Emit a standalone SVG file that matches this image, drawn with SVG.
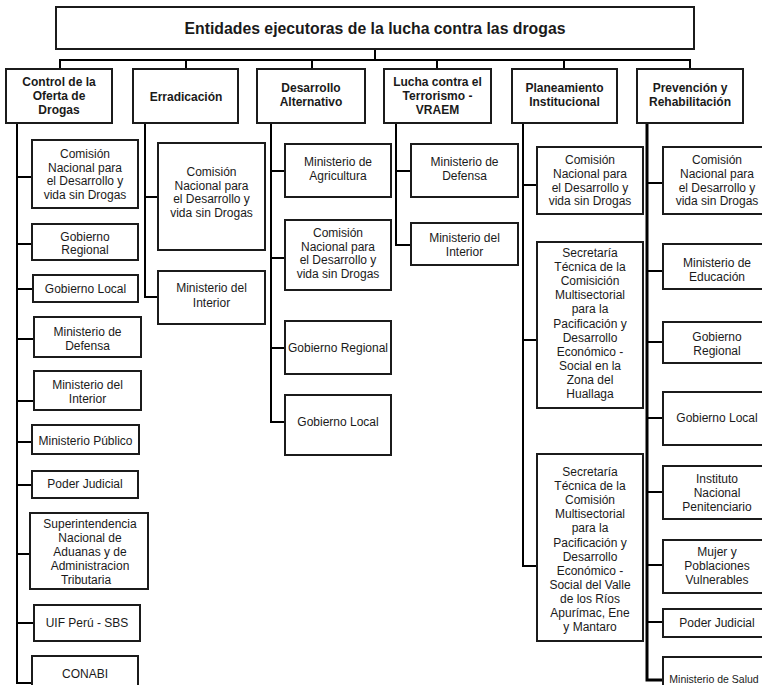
<svg xmlns="http://www.w3.org/2000/svg" width="762" height="685" viewBox="0 0 762 685">
<style>
.box{fill:#fff;stroke:#1b1b1b;stroke-width:2}
.t{font-family:"Liberation Sans",Arial,sans-serif;font-size:12px;text-anchor:middle;fill:#1a1a1a}
.h{font-weight:bold}
.ti{font-size:15.8px}
.s{font-size:10.5px}
.c{fill:none;stroke:#000;stroke-width:2}
.c3{fill:none;stroke:#000;stroke-width:3}
</style>
<rect width="762" height="685" fill="#fff"/>
<g id="connectors">
<path class="c" d="M375,49V60M60,69V60H690V69M186,60V69M312,60V69M437,60V69M564,60V69"/>
<path class="c" d="M17,123V683H32M17,177H32M17,244H32M17,289H33M17,339H34M17,401H34M17,442H32M17,485H32M17,554H30M17,623H34"/>
<path class="c" d="M145,123V297H158M145,197H158"/>
<path class="c" d="M271,123V422H285M271,171H285M271,258H285M271,348H285"/>
<path class="c" d="M396,123V245H411M396,171H411"/>
<path class="c" d="M523,123V566H537M523,185H537M523,340H537"/>
<path class="c3" d="M647,123V680H663"/>
<path class="c" d="M647,183H663M647,271H663M647,342H663M647,418H663M647,492H663M647,565H663M647,622H663"/>
</g>
<g id="title"><rect class="box" x="56" y="7" width="638" height="42"/><text class="t h ti" x="375" y="34">Entidades ejecutoras de la lucha contra las drogas</text></g>
<g id="h1"><rect class="box" x="6" y="69" width="106" height="54"/><text class="t h" x="59" y="86">Control de la<tspan x="59" dy="14">Oferta de</tspan><tspan x="59" dy="14">Drogas</tspan></text></g>
<g id="h2"><rect class="box" x="133" y="69" width="105" height="54"/><text class="t h" x="186" y="101">Erradicación</text></g>
<g id="h3"><rect class="box" x="257" y="69" width="108" height="54"/><text class="t h" x="311" y="92">Desarrollo<tspan x="311" dy="14">Alternativo</tspan></text></g>
<g id="h4"><rect class="box" x="384" y="69" width="107" height="54"/><text class="t h" x="437.5" y="86">Lucha contra el<tspan x="437.5" dy="14">Terrorismo -</tspan><tspan x="437.5" dy="14">VRAEM</tspan></text></g>
<g id="h5"><rect class="box" x="512" y="69" width="105" height="54"/><text class="t h" x="564.5" y="92">Planeamiento<tspan x="564.5" dy="14">Institucional</tspan></text></g>
<g id="h6"><rect class="box" x="637" y="69" width="106" height="54"/><text class="t h" x="690" y="92">Prevención y<tspan x="690" dy="14">Rehabilitación</tspan></text></g>

<g id="c1a"><rect class="box" x="32" y="140" width="106" height="68"/><text class="t" x="85" y="158">Comisión<tspan x="85" dy="13.5">Nacional para</tspan><tspan x="85" dy="13.5">el Desarrollo y</tspan><tspan x="85" dy="13.5">vida sin Drogas</tspan></text></g>
<g id="c1b"><rect class="box" x="32" y="224" width="106" height="36"/><text class="t" x="85" y="240.5">Gobierno<tspan x="85" dy="13.5">Regional</tspan></text></g>
<g id="c1c"><rect class="box" x="33" y="275" width="105" height="27"/><text class="t" x="85.5" y="293">Gobierno Local</text></g>
<g id="c1d"><rect class="box" x="34" y="317" width="107" height="40"/><text class="t" x="87.5" y="336">Ministerio de<tspan x="87.5" dy="13.5">Defensa</tspan></text></g>
<g id="c1e"><rect class="box" x="34" y="371" width="107" height="39"/><text class="t" x="87.5" y="389">Ministerio del<tspan x="87.5" dy="13.5">Interior</tspan></text></g>
<g id="c1f"><rect class="box" x="32" y="425" width="107" height="29"/><text class="t" x="85.5" y="445">Ministerio Público</text></g>
<g id="c1g"><rect class="box" x="32" y="471" width="106" height="27"/><text class="t" x="85" y="488">Poder Judicial</text></g>
<g id="c1h"><rect class="box" x="30" y="513" width="118" height="76"/><text class="t" x="90" y="528">Superintendencia<tspan x="90" dy="14">Nacional de</tspan><tspan x="90" dy="14">Aduanas y de</tspan><tspan x="90" dy="14">Administracion</tspan><tspan x="86" dy="14">Tributaria</tspan></text></g>
<g id="c1i"><rect class="box" x="34" y="605" width="106" height="36"/><text class="t" x="87" y="627">UIF Perú - SBS</text></g>
<g id="c1j"><rect class="box" x="32" y="656" width="106" height="45"/><text class="t" x="85" y="678">CONABI</text></g>

<g id="c2a"><rect class="box" x="158" y="143" width="107" height="107"/><text class="t" x="211.5" y="176">Comisión<tspan x="211.5" dy="13.7">Nacional para</tspan><tspan x="211.5" dy="13.7">el Desarrollo y</tspan><tspan x="211.5" dy="13.7">vida sin Drogas</tspan></text></g>
<g id="c2b"><rect class="box" x="158" y="271" width="107" height="53"/><text class="t" x="211.5" y="292">Ministerio del<tspan x="211.5" dy="14.5">Interior</tspan></text></g>

<g id="c3a"><rect class="box" x="285" y="144" width="106" height="53"/><text class="t" x="338" y="166">Ministerio de<tspan x="338" dy="13.5">Agricultura</tspan></text></g>
<g id="c3b"><rect class="box" x="285" y="220" width="106" height="70"/><text class="t" x="338" y="237">Comisión<tspan x="338" dy="13.7">Nacional para</tspan><tspan x="338" dy="13.7">el Desarrollo y</tspan><tspan x="338" dy="13.7">vida sin Drogas</tspan></text></g>
<g id="c3c"><rect class="box" x="285" y="321" width="106" height="53"/><text class="t" x="338" y="352">Gobierno Regional</text></g>
<g id="c3d"><rect class="box" x="285" y="395" width="106" height="60"/><text class="t" x="338" y="426">Gobierno Local</text></g>

<g id="c4a"><rect class="box" x="411" y="144" width="107" height="53"/><text class="t" x="464.5" y="166">Ministerio de<tspan x="464.5" dy="13.5">Defensa</tspan></text></g>
<g id="c4b"><rect class="box" x="411" y="223" width="107" height="42"/><text class="t" x="464.5" y="242">Ministerio del<tspan x="464.5" dy="14">Interior</tspan></text></g>

<g id="c5a"><rect class="box" x="537" y="147" width="106" height="67"/><text class="t" x="590" y="164">Comisión<tspan x="590" dy="13.8">Nacional para</tspan><tspan x="590" dy="13.8">el Desarrollo y</tspan><tspan x="590" dy="13.8">vida sin Drogas</tspan></text></g>
<g id="c5b"><rect class="box" x="537" y="242" width="106" height="166"/><text class="t" x="590" y="257">Secretaría<tspan x="590" dy="14.1">Técnica de la</tspan><tspan x="590" dy="14.1">Comisición</tspan><tspan x="590" dy="14.1">Multisectorial</tspan><tspan x="590" dy="14.1">para la</tspan><tspan x="590" dy="14.1">Pacificación y</tspan><tspan x="590" dy="14.1">Desarrollo</tspan><tspan x="590" dy="14.1">Económico -</tspan><tspan x="590" dy="14.1">Social en la</tspan><tspan x="590" dy="14.1">Zona del</tspan><tspan x="590" dy="14.1">Huallaga</tspan></text></g>
<g id="c5c"><rect class="box" x="537" y="454" width="106" height="187"/><text class="t" x="590" y="476">Secretaría<tspan x="590" dy="14.1">Técnica de la</tspan><tspan x="590" dy="14.1">Comisión</tspan><tspan x="590" dy="14.1">Multisectorial</tspan><tspan x="590" dy="14.1">para la</tspan><tspan x="590" dy="14.1">Pacificación y</tspan><tspan x="590" dy="14.1">Desarrollo</tspan><tspan x="590" dy="14.1">Económico -</tspan><tspan x="590" dy="14.1">Social del Valle</tspan><tspan x="590" dy="14.1">de los Ríos</tspan><tspan x="590" dy="14.1">Apurímac, Ene</tspan><tspan x="590" dy="14.1">y Mantaro</tspan></text></g>

<g id="c6a"><rect class="box" x="663" y="147" width="108" height="67"/><text class="t" x="717" y="164">Comisión<tspan x="717" dy="13.8">Nacional para</tspan><tspan x="717" dy="13.8">el Desarrollo y</tspan><tspan x="717" dy="13.8">vida sin Drogas</tspan></text></g>
<g id="c6b"><rect class="box" x="663" y="244" width="108" height="45"/><text class="t" x="717" y="267">Ministerio de<tspan x="717" dy="14">Educación</tspan></text></g>
<g id="c6c"><rect class="box" x="663" y="322" width="108" height="41"/><text class="t" x="717" y="341">Gobierno<tspan x="717" dy="14">Regional</tspan></text></g>
<g id="c6d"><rect class="box" x="663" y="392" width="108" height="53"/><text class="t" x="717" y="422">Gobierno Local</text></g>
<g id="c6e"><rect class="box" x="663" y="466" width="108" height="53"/><text class="t" x="717" y="483">Instituto<tspan x="717" dy="14">Nacional</tspan><tspan x="717" dy="14">Penitenciario</tspan></text></g>
<g id="c6f"><rect class="box" x="663" y="540" width="108" height="53"/><text class="t" x="717" y="556">Mujer y<tspan x="717" dy="14">Poblaciones</tspan><tspan x="717" dy="14">Vulnerables</tspan></text></g>
<g id="c6g"><rect class="box" x="663" y="609" width="108" height="28"/><text class="t" x="717" y="627">Poder Judicial</text></g>
<g id="c6h"><rect class="box" x="663" y="657" width="108" height="40"/><text class="t s" x="714" y="683">Ministerio de Salud</text></g>
</svg>
